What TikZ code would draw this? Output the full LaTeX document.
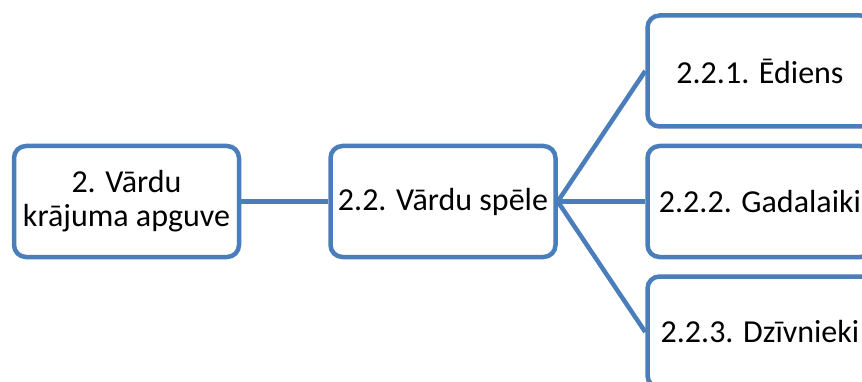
\documentclass[tikz,border=0pt]{standalone}
\usepackage{fontspec}
\setmainfont{Carlito}
\definecolor{boxblue}{HTML}{4A7EBB}
\begin{document}
\begin{tikzpicture}[x=1pt,y=-1pt,
  box/.style={draw=boxblue, line width=4.5pt, fill=white, rounded corners=12pt,
    minimum width=225pt, minimum height=111pt, inner sep=0pt, align=center,
    font=\fontsize{32}{34}\selectfont},
  conn/.style={draw=boxblue, line width=4.5pt}]
\useasboundingbox (0,0) rectangle (862,382);
\node[box] (root) at (126.5,201.5) {2. Vārdu\\krājuma apguve};
\node[box] (mid) at (443,201.5) {2.2. Vārdu spēle};
\node[box] (r1) at (760,71) {2.2.1. Ēdiens};
\node[box] (r2) at (760,201.5) {2.2.2. Gadalaiki};
\node[box] (r3) at (760,332) {2.2.3. Dzīvnieki};
\draw[conn] (root.east) -- (mid.west);
\draw[conn] (mid.east) -- (r1.west);
\draw[conn] (mid.east) -- (r2.west);
\draw[conn] (mid.east) -- (r3.west);
\end{tikzpicture}
\end{document}
